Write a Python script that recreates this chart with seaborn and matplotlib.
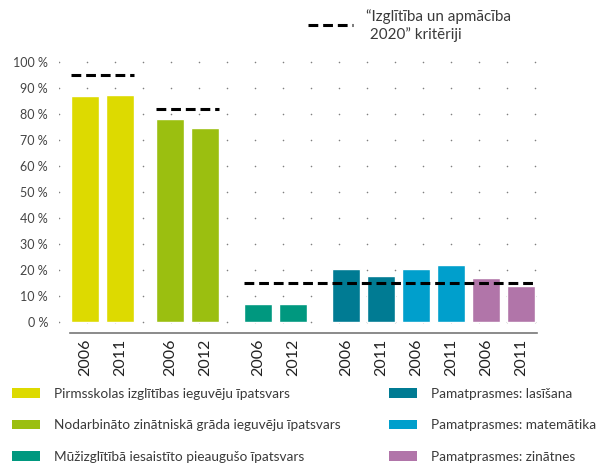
import matplotlib
matplotlib.use("Agg")
import matplotlib.pyplot as plt
from matplotlib.lines import Line2D
from matplotlib.patches import Patch
import numpy as np
import pandas as pd
import seaborn as sns

# --- data ---
series = [
    "Pirmsskolas izglītības ieguvēju īpatsvars",
    "Nodarbināto zinātniskā grāda ieguvēju īpatsvars",
    "Mūžizglītībā iesaistīto pieaugušo īpatsvars",
    "Pamatprasmes: lasīšana",
    "Pamatprasmes: matemātika",
    "Pamatprasmes: zinātnes",
]
years = [
    ["2006", "2011"],
    ["2006", "2012"],
    ["2006", "2012"],
    ["2006", "2011"],
    ["2006", "2011"],
    ["2006", "2011"],
]
values = [
    [87.0, 87.3],
    [78.1, 74.6],
    [6.9, 6.9],
    [20.4, 17.7],
    [20.4, 21.9],
    [16.9, 13.8],
]
colors = ["#DDDA00", "#9BBF10", "#00987F", "#007B93", "#009FCC", "#B175A9"]
targets = [95, 82, 15]
target_span = [(0, 0), (1, 1), (2, 5)]  # first and last series covered by each target
target_label = "\u201cIzglītība un apmācība\n 2020\u201d kritēriji"
yticks = list(range(0, 101, 10))

# extra gap (in bar slots) after each group
group_gap = [0.43, 0.51, 0.51, 0, 0, 0]
rows = []
pos = 0.0
for g, name in enumerate(series):
    for k in range(2):
        rows.append({"series": name, "year": years[g][k], "value": values[g][k], "x": pos})
        pos += 1
    pos += group_gap[g]
df = pd.DataFrame(rows)

sns.set_theme(style="white")
plt.rcParams["font.family"] = ["Lato", "DejaVu Sans"]

W, H = 607, 467
fig = plt.figure(figsize=(W / 100, H / 100), dpi=100)
fig.patch.set_facecolor("white")
ax = fig.add_axes([59 / W, (H - 333) / H, (537 - 59) / W, (333 - 55) / H])

px_unit = 35.0
x_left = (59 - 85) / px_unit
x_right = (537 - 85) / px_unit
y_bottom = (322 - 333) / 2.6
y_top = (322 - 55) / 2.6

# dotted grid
dot_x = x_left + np.arange(18) * 28 / px_unit
gx, gy = np.meshgrid(dot_x, yticks)
ax.scatter(gx.ravel(), gy.ravel(), s=1.3, color="#808080", linewidths=0, zorder=1)

sns.barplot(
    data=df, x="x", y="value", hue="series", hue_order=series,
    palette=colors, native_scale=True, dodge=False, width=0.8,
    saturation=1, legend=False, ax=ax, zorder=2,
)

# target lines
for t, (a, b) in zip(targets, target_span):
    xs = df[df["series"].isin(series[a:b + 1])]["x"]
    ax.hlines(t, xs.min() - 0.4, xs.max() + 0.4, colors="black", linewidth=2.2,
              linestyles=(0, (3.2, 1.6)), zorder=3)

ax.set_xlim(x_left, x_right)
ax.set_ylim(y_bottom, y_top)
ax.set_yticks(yticks)
ax.set_yticklabels([f"{v} %" for v in yticks])
ax.set_xticks(df["x"])
ax.set_xticklabels(df["year"], rotation=90)
ax.tick_params(axis="y", length=0, pad=8, labelsize=9, labelcolor="#444444")
ax.tick_params(axis="x", length=0, pad=4, labelsize=11.5, labelcolor="#222222")
ax.set_xlabel("")
ax.set_ylabel("")
for s in ["top", "right", "left"]:
    ax.spines[s].set_visible(False)
ax.spines["bottom"].set_color("#777777")
ax.spines["bottom"].set_linewidth(1.2)
ax.spines["bottom"].set_bounds((70 - 85) / px_unit, x_right)

# bottom legend, two columns
handles = [Patch(facecolor=c, edgecolor="none") for c in colors]
for col, x0 in enumerate([12 / W, 389 / W]):
    leg = fig.legend(
        handles[col * 3:col * 3 + 3], series[col * 3:col * 3 + 3],
        loc="upper left", bbox_to_anchor=(x0, (H - 388) / H), frameon=False,
        fontsize=9.8, handlelength=2.06, handleheight=0.73, handletextpad=1.03,
        labelspacing=1.42, borderaxespad=0, borderpad=0,
    )
    for txt in leg.get_texts():
        txt.set_color("#3a3a3a")

# top legend for target line
fig.add_artist(Line2D([308 / W, 353 / W], [(H - 25) / H] * 2, color="black",
                      linewidth=2.2, linestyle=(0, (3.2, 1.6))))
fig.text(366 / W, (H - 9) / H, target_label, ha="left", va="top", fontsize=10.9,
         color="#3a3a3a", linespacing=1.25)

fig.savefig("out.png", dpi=100, facecolor="white")
